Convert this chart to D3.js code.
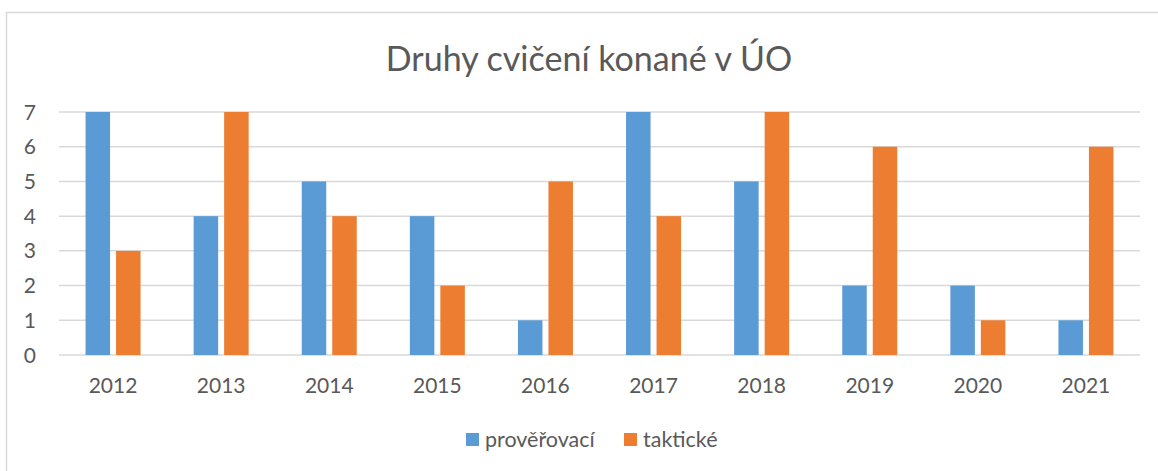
<!DOCTYPE html>
<html>
<head>
<meta charset="utf-8">
<script src="https://cdn.jsdelivr.net/npm/d3@7"></script>
<style>
  body { margin: 0; background: #fff; }
  svg text { font-family: Lato, "Open Sans", sans-serif; fill: #595959; }
</style>
</head>
<body>
<div id="chart"></div>
<script>
  const years = ["2012", "2013", "2014", "2015", "2016", "2017", "2018", "2019", "2020", "2021"];
  const proverovaci = [7, 4, 5, 4, 1, 7, 5, 2, 2, 1];
  const takticke = [3, 7, 4, 2, 5, 4, 7, 6, 1, 6];
  const seriesNames = ["prověřovací", "taktické"];
  const seriesColors = ["#5b9bd5", "#ed7d31"];
  const yTicks = [0, 1, 2, 3, 4, 5, 6, 7];
  const title = "Druhy cvičení konané v ÚO";

  const svg = d3.select("#chart").append("svg")
    .attr("width", 1158)
    .attr("height", 471);

  // chart frame (continues past the right and bottom edge)
  svg.append("rect")
    .attr("x", 6.5).attr("y", 12.5)
    .attr("width", 1170).attr("height", 480)
    .attr("fill", "#fff")
    .attr("stroke", "#d9d9d9")
    .attr("stroke-width", 1.5);

  const margin = { top: 112, left: 59 };
  const width = 1081, height = 243;
  const g = svg.append("g").attr("transform", `translate(${margin.left},${margin.top})`);

  const x = d3.scaleBand().domain(years).range([0, width]);
  const y = d3.scaleLinear().domain([0, 7]).range([height, 0]);
  const barW = 24.5, gap = 6;

  // gridlines
  g.append("g")
    .selectAll("line")
    .data(yTicks)
    .enter().append("line")
    .attr("x1", 0).attr("x2", width)
    .attr("y1", d => y(d)).attr("y2", d => y(d))
    .attr("stroke", "#d9d9d9")
    .attr("stroke-width", 1.5);

  // y labels
  g.append("g")
    .selectAll("text")
    .data(yTicks)
    .enter().append("text")
    .attr("x", -23)
    .attr("y", d => y(d))
    .attr("dy", "0.36em")
    .attr("text-anchor", "end")
    .style("font-size", "21px")
    .text(d => d);

  // x labels
  g.append("g")
    .selectAll("text")
    .data(years)
    .enter().append("text")
    .attr("x", d => x(d) + x.bandwidth() / 2)
    .attr("y", height + 38)
    .attr("text-anchor", "middle")
    .style("font-size", "21px")
    .text(d => d);

  // bars
  [proverovaci, takticke].forEach((values, si) => {
    g.append("g")
      .selectAll("rect")
      .data(values)
      .enter().append("rect")
      .attr("x", (d, i) => x(years[i]) + x.bandwidth() / 2 + (si === 0 ? -(barW + gap / 2) : gap / 2))
      .attr("y", d => y(d))
      .attr("width", barW)
      .attr("height", d => height - y(d))
      .attr("fill", seriesColors[si]);
  });

  // title
  svg.append("text")
    .attr("x", 589)
    .attr("y", 71)
    .attr("text-anchor", "middle")
    .style("font-size", "34px")
    .text(title);

  // legend
  const legendX = [466, 624];
  seriesNames.forEach((name, i) => {
    svg.append("rect")
      .attr("x", legendX[i]).attr("y", 433)
      .attr("width", 13).attr("height", 13)
      .attr("fill", seriesColors[i]);
    svg.append("text")
      .attr("x", legendX[i] + 19).attr("y", 447)
      .style("font-size", "21.5px")
      .text(name);
  });
</script>
</body>
</html>
